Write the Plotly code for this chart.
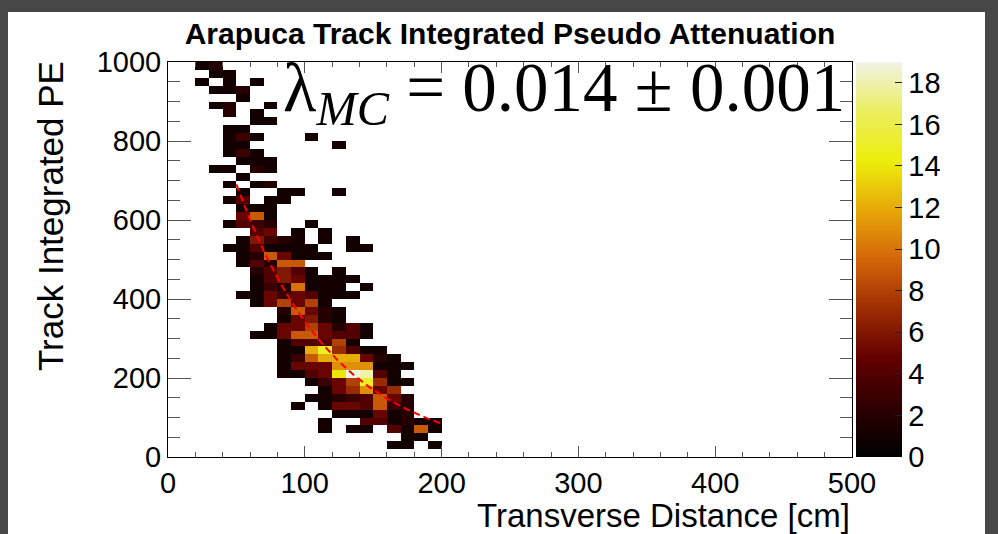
import numpy as np
import plotly.graph_objects as go

# ---- histogram binning -------------------------------------------------
DIST_EDGES = np.linspace(0, 500, 51)    # transverse distance [cm], 10 cm bins
PE_EDGES = np.linspace(0, 1000, 51)     # track integrated PE, 20 PE bins

# Filled bins, one row per PE bin:
# (PE bin lower edge, lower edge of first listed distance bin [cm], entries in consecutive 10 cm bins)
hist_rows = [
    (980, 20, [1, 2]),
    (960, 30, [1, 1]),
    (940, 20, [1, 0, 1, 0, 1]),
    (920, 30, [1, 1, 2]),
    (900, 50, [1]),
    (880, 30, [1, 2, 0, 0, 1]),
    (860, 40, [2, 0, 1]),
    (840, 60, [1, 1]),
    (820, 40, [1, 1]),
    (800, 40, [1, 3, 1, 0, 0, 0, 1]),
    (780, 40, [1, 1, 0, 0, 0, 0, 0, 0, 1]),
    (760, 40, [1, 3, 1]),
    (740, 50, [1, 1, 1]),
    (720, 30, [1, 1, 0, 2, 1]),
    (700, 50, [1]),
    (680, 40, [1, 0, 1, 2]),
    (660, 50, [1, 0, 0, 1, 1, 0, 0, 1]),
    (640, 40, [1, 4, 0, 1, 1]),
    (620, 50, [1, 1, 1]),
    (600, 50, [5, 9, 1]),
    (580, 40, [1, 4, 3, 2, 0, 0, 1]),
    (560, 60, [4, 5, 0, 1, 0, 1]),
    (540, 50, [1, 6, 3, 2, 1, 0, 1, 0, 1]),
    (520, 40, [1, 1, 4, 1, 1, 1, 1, 0, 0, 1, 1]),
    (500, 50, [1, 2, 9, 5, 1, 1, 1]),
    (480, 50, [1, 4, 2, 9, 9]),
    (460, 60, [2, 4, 6, 4, 1, 0, 1]),
    (440, 60, [1, 4, 6, 5, 1, 1, 1, 1]),
    (420, 60, [1, 3, 2, 10, 1, 1, 1, 0, 1]),
    (400, 50, [1, 1, 5, 3, 5, 4, 1, 1, 1]),
    (380, 60, [1, 5, 8, 5, 8, 1]),
    (360, 80, [2, 9, 5, 2, 1]),
    (340, 80, [1, 5, 6, 2, 1]),
    (320, 70, [1, 5, 5, 8, 5, 2, 4, 1]),
    (300, 60, [1, 1, 5, 9, 9, 5, 4, 4, 1]),
    (280, 80, [1, 4, 4, 4, 8, 1]),
    (260, 80, [1, 1, 12, 15, 7, 4, 1, 1]),
    (240, 80, [1, 3, 9, 12, 12, 12, 5, 2, 1]),
    (220, 80, [1, 5, 5, 5, 11, 11, 11, 1, 1, 1]),
    (200, 80, [1, 1, 4, 5, 14, 19, 18, 4, 1]),
    (180, 100, [1, 3, 5, 8, 15, 7, 1, 1]),
    (160, 110, [1, 5, 7, 11, 5, 7]),
    (140, 100, [1, 1, 2, 3, 4, 9, 5, 2]),
    (120, 90, [1, 0, 1, 5, 5, 4, 9, 3, 2]),
    (100, 120, [1, 1, 1, 5, 1, 2]),
    (80, 110, [1, 0, 0, 4, 4, 1, 2, 1, 1]),
    (60, 110, [1, 0, 1, 1, 0, 4, 1, 9, 1]),
    (40, 170, [1, 1]),
    (20, 160, [1, 1, 0, 1]),
]

# exponential fit: PE = FIT_NORM * exp(-FIT_LAMBDA * d)
FIT_LAMBDA = 0.014      # 1/cm
FIT_LAMBDA_ERR = 0.001
FIT_NORM = 1390.0       # PE
FIT_RANGE = (50, 200)   # cm

x_tick_vals = [0, 100, 200, 300, 400, 500]
y_tick_vals = [0, 200, 400, 600, 800, 1000]
z_tick_vals = list(range(0, 19, 2))
Z_MAX = 19

# ROOT kDarkBodyRadiator palette
palette_rgb = [
    (0, 0, 0), (45, 0, 1), (99, 0, 1), (156, 45, 3), (212, 101, 9),
    (230, 168, 8), (237, 238, 11), (234, 238, 95), (242, 243, 230),
]

# ---- build the 2D histogram ----------------------------------------------
nx, ny = len(DIST_EDGES) - 1, len(PE_EDGES) - 1
dx = DIST_EDGES[1] - DIST_EDGES[0]
dy = PE_EDGES[1] - PE_EDGES[0]
z = [[None] * nx for _ in range(ny)]
for pe_low, d_low, counts in hist_rows:
    j = int(round(pe_low / dy))
    i0 = int(round(d_low / dx))
    for k, c in enumerate(counts):
        if c > 0:
            z[j][i0 + k] = c

colorscale = [[k / (len(palette_rgb) - 1), f"rgb{c}"] for k, c in enumerate(palette_rgb)]

FONT = "Liberation Sans"
fig = go.Figure()

fig.add_trace(go.Heatmap(
    x=DIST_EDGES, y=PE_EDGES, z=z,
    zmin=0, zmax=Z_MAX, colorscale=colorscale,
    hoverongaps=False,
    colorbar=dict(
        x=1.006, xanchor="left", xpad=0,
        y=0, yanchor="bottom", ypad=0, len=1, lenmode="fraction",
        thickness=46, thicknessmode="pixels", outlinewidth=0,
        tickvals=z_tick_vals, ticks="inside", ticklen=7,
        tickcolor="#222", tickwidth=1,
        tickfont=dict(family=FONT, size=29, color="black"),
    ),
))

fit_x = np.linspace(FIT_RANGE[0], FIT_RANGE[1], 151)
fig.add_trace(go.Scatter(
    x=fit_x, y=FIT_NORM * np.exp(-FIT_LAMBDA * fit_x),
    mode="lines", line=dict(color="#ff0000", width=2, dash="7px,4px"),
    showlegend=False, hoverinfo="skip",
))

# page geometry (pixels) used for the canvas frame
W, H = 998, 534
ML, MR, MT, MB = 168, 146, 62, 77
PW, PH = W - ML - MR, H - MT - MB


def px_x(px):
    return (px - ML) / PW


def px_y(py):
    return (H - MB - py) / PH


axis_common = dict(
    showline=True, linecolor="black", linewidth=1, mirror="allticks",
    ticks="inside", tickcolor="#555", tickwidth=1,
    showgrid=False, zeroline=False,
    tickfont=dict(family=FONT, size=29, color="black"),
)

fig.update_layout(
    width=W, height=H,
    margin=dict(l=ML, r=MR, t=MT, b=MB, pad=0),
    paper_bgcolor="#474747", plot_bgcolor="white",
    showlegend=False,
    title=dict(
        text="<b>Arapuca Track Integrated Pseudo Attenuation</b>",
        x=0.511, xanchor="center", y=1 - 33 / H, yanchor="middle",
        font=dict(family=FONT, size=30, color="black"),
    ),
    xaxis=dict(
        range=[0, 500], tickvals=x_tick_vals, ticklen=11,
        minor=dict(dtick=20, ticklen=5, ticks="inside", tickcolor="#555", showgrid=False),
        **axis_common,
    ),
    yaxis=dict(
        range=[0, 1000], tickvals=y_tick_vals, ticklen=23,
        minor=dict(dtick=50, ticklen=12, ticks="inside", tickcolor="#555", showgrid=False),
        **axis_common,
    ),
    shapes=[dict(
        type="rect", xref="paper", yref="paper", layer="below",
        x0=px_x(8), x1=px_x(985), y0=px_y(H), y1=px_y(12),
        fillcolor="white", line=dict(width=0),
    )],
    annotations=[
        dict(
            text="Transverse Distance [cm]", xref="paper", yref="paper",
            x=1, xanchor="right", y=px_y(515.5), yanchor="middle", showarrow=False,
            font=dict(family=FONT, size=33, color="black"),
        ),
        dict(
            text="Track Integrated PE", xref="paper", yref="paper", textangle=-90,
            x=px_x(50), xanchor="center", y=px_y(216), yanchor="middle", showarrow=False,
            font=dict(family=FONT, size=35, color="black"),
        ),
        dict(
            text=f"λ<sub><i>MC</i></sub> = {FIT_LAMBDA:.3f} ± {FIT_LAMBDA_ERR:.3f}",
            xref="paper", yref="paper",
            x=px_x(281), xanchor="left", y=px_y(93), yanchor="middle", showarrow=False,
            font=dict(family="Liberation Serif", size=69, color="black"),
        ),
    ],
)

fig.write_html("out.html")
